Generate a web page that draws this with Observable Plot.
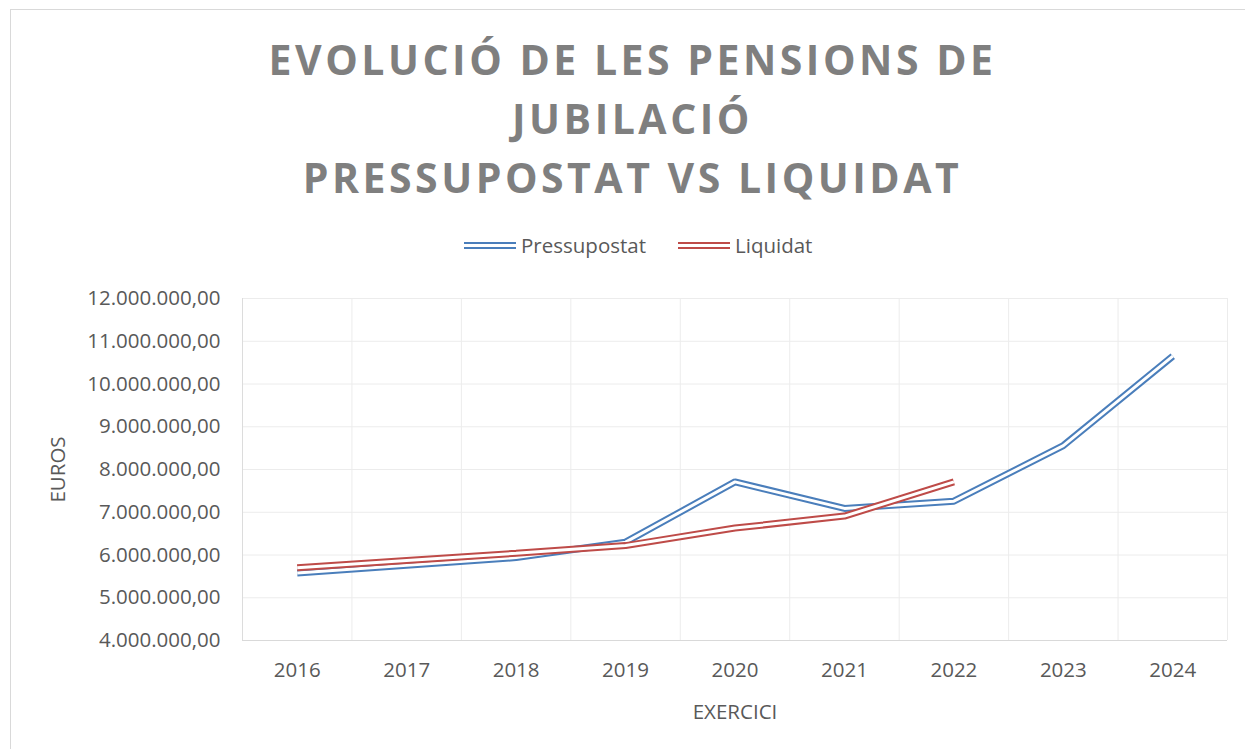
<!DOCTYPE html>
<html>
<head>
<meta charset="utf-8">
<script src="https://cdn.jsdelivr.net/npm/d3@7"></script>
<script src="https://cdn.jsdelivr.net/npm/@observablehq/plot@0.6"></script>
<style>
  html, body { margin: 0; padding: 0; background: #fff; overflow: hidden; }
  #wrap { position: relative; width: 1245px; height: 749px; overflow: hidden; font-family: "Open Sans", Lato, sans-serif; }
  #border { position: absolute; left: 10px; top: 9px; width: 1260px; height: 760px; border: 1px solid #d9d9d9; box-sizing: border-box; }
  #title { position: absolute; left: 0; top: 30px; width: 1265px; text-align: center; color: #7f7f7f; font-weight: 700; font-size: 41px; letter-spacing: 3.5px; line-height: 59px; }
  #legend { position: absolute; top: 232px; left: 0; width: 1245px; height: 26px; color: #595959; font-size: 20.5px; }
  .li { position: absolute; top: 0; display: flex; align-items: center; height: 26px; }
  .sw { width: 52px; height: 7px; box-sizing: border-box; border-top: 2px solid; border-bottom: 2px solid; margin-right: 5px; }
  #chart { position: absolute; left: 0; top: 0; }
</style>
</head>
<body>
<div id="wrap">
  <div id="border"></div>
  <div id="title">EVOLUCIÓ DE LES PENSIONS DE<br>JUBILACIÓ<br>PRESSUPOSTAT VS LIQUIDAT</div>
  <div id="legend"></div>
  <div id="chart"></div>
</div>
<script>
const years = [2016, 2017, 2018, 2019, 2020, 2021, 2022, 2023, 2024];
const pressupostat = [5580000, 5760000, 5940000, 6300000, 7710000, 7090000, 7260000, 8560000, 10650000];
const liquidatYears = [2016, 2017, 2018, 2019, 2020, 2021, 2022];
const liquidat = [5700000, 5870000, 6040000, 6220000, 6630000, 6910000, 7710000];
const yTicks = [4000000, 5000000, 6000000, 7000000, 8000000, 9000000, 10000000, 11000000, 12000000];
const seriesNames = ["Pressupostat", "Liquidat"];
const seriesColors = ["#4a7ebb", "#be4b48"];

const dataP = years.map((y, i) => ({year: y, value: pressupostat[i]}));
const dataL = liquidatYears.map((y, i) => ({year: y, value: liquidat[i]}));
const boundaries = [...years.map(y => y - 0.5), years[years.length - 1] + 0.5];

const loc = d3.formatLocale({decimal: ",", thousands: ".", grouping: [3], currency: ["", "€"]});
const fmt = loc.format(",.2f");

const lineOpts = {x: "year", y: "value", strokeLinejoin: "miter", strokeLinecap: "butt"};

const plot = Plot.plot({
  width: 1245,
  height: 749,
  marginLeft: 242,
  marginRight: 18,
  marginTop: 298,
  marginBottom: 109,
  style: {fontFamily: "'Open Sans', Lato, sans-serif", fontSize: "20.5px", color: "#595959", background: "transparent"},
  x: {type: "linear", domain: [years[0] - 0.5, years[years.length - 1] + 0.5]},
  y: {type: "linear", domain: [4000000, 12000000]},
  marks: [
    Plot.ruleY(yTicks.slice(1), {stroke: "#ececec", strokeWidth: 1}),
    Plot.ruleX(boundaries.slice(1), {stroke: "#ececec", strokeWidth: 1}),
    Plot.ruleX([boundaries[0]], {stroke: "#dcdcdc", strokeWidth: 1}),
    Plot.ruleY([4000000], {stroke: "#d9d9d9", strokeWidth: 1}),
    Plot.axisY({ticks: yTicks, tickFormat: fmt, tickSize: 0, tickPadding: 22, fontSize: 20.5, label: "EUROS", labelAnchor: "center", labelOffset: 192, labelArrow: "none"}),
    Plot.axisX({ticks: years, tickFormat: d => String(d), tickSize: 0, tickPadding: 22, fontSize: 20.5, label: "EXERCICI", labelAnchor: "center", labelOffset: 78, labelArrow: "none"}),
    Plot.line(dataP, {...lineOpts, stroke: seriesColors[0], strokeWidth: 7}),
    Plot.line(dataP, {...lineOpts, stroke: "#ffffff", strokeWidth: 3}),
    Plot.line(dataL, {...lineOpts, stroke: seriesColors[1], strokeWidth: 7}),
    Plot.line(dataL, {...lineOpts, stroke: "#ffffff", strokeWidth: 3})
  ]
});
document.getElementById("chart").appendChild(plot);

const legend = document.getElementById("legend");
const legendX = [464, 678];
seriesNames.forEach((name, i) => {
  const item = document.createElement("div");
  item.className = "li";
  item.style.left = legendX[i] + "px";
  const sw = document.createElement("div");
  sw.className = "sw";
  sw.style.borderColor = seriesColors[i];
  const t = document.createElement("span");
  t.textContent = name;
  item.appendChild(sw);
  item.appendChild(t);
  legend.appendChild(item);
});
</script>
</body>
</html>
